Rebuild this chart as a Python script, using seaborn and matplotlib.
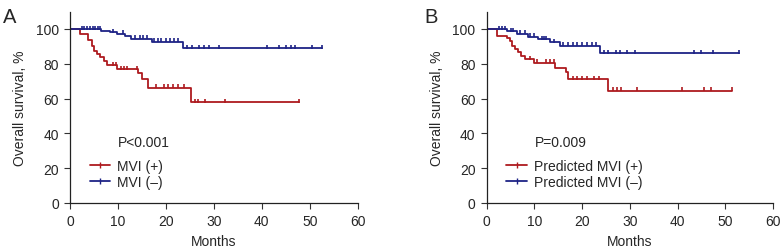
import numpy as np
import pandas as pd
import matplotlib
matplotlib.use("Agg")
import matplotlib.pyplot as plt
import seaborn as sns
from matplotlib.lines import Line2D

sns.set_theme(style="ticks")
plt.rcParams['font.family'] = ['Liberation Sans', 'DejaVu Sans']

# ---- Panel A data ----
a_pos_t = [0, 2.1, 3.8, 4.5, 5.0, 5.6, 6.25, 7.0, 7.8, 9.7, 14.2, 15.0, 16.2, 25.2, 47.8]
a_pos_s = [100, 97.2, 93.5, 90.4, 87.2, 85.6, 83.7, 81.8, 79.3, 77.0, 74.5, 71.0, 66.2, 57.8, 57.8]
a_pos_c = [9.0, 9.5, 10.6, 11.2, 11.8, 14.0, 18.0, 19.5, 20.5, 21.5, 22.5, 23.8, 26.0, 26.7, 28.1, 32.3, 47.8]
a_neg_t = [0, 6.5, 8.3, 9.8, 11.5, 12.8, 17.0, 23.5, 52.6]
a_neg_s = [100, 99.0, 98.1, 97.2, 96.2, 94.4, 92.8, 89.0, 89.0]
a_neg_c = [2.4, 3.0, 3.6, 4.2, 4.8, 5.3, 5.8, 6.2, 9.0, 11.0, 13.6, 14.5, 15.2, 16.0, 17.5, 18.3, 19.0,
           20.0, 20.8, 21.7, 22.6, 24.3, 25.5, 27.0, 28.0, 29.0, 31.0, 41.0, 43.5, 45.0, 46.0, 47.0,
           50.5, 52.6]

# ---- Panel B data ----
b_pos_t = [0, 2.1, 4.2, 4.9, 5.2, 5.9, 6.6, 7.1, 8.0, 9.9, 14.3, 16.6, 17.1, 25.5, 51.3]
b_pos_s = [100, 96.2, 94.6, 93.1, 90.4, 88.5, 86.6, 84.7, 82.6, 80.6, 77.4, 75.3, 71.0, 64.6, 64.6]
b_pos_c = [9.0, 10.5, 12.5, 13.3, 14.0, 18.0, 19.0, 20.0, 21.0, 22.5, 23.5, 26.5, 27.2, 28.2, 31.5,
           41.0, 45.5, 47.0, 51.3]
b_neg_t = [0, 4.2, 6.3, 8.7, 10.8, 13.3, 15.4, 23.8, 52.9]
b_neg_s = [100, 98.6, 97.3, 95.6, 94.1, 92.3, 90.5, 86.2, 86.2]
b_neg_c = [2.5, 3.2, 3.8, 5.0, 5.5, 7.0, 8.0, 9.0, 10.0, 11.5, 12.0, 12.5, 14.0, 16.0, 17.0, 18.0,
           19.0, 20.0, 21.0, 22.0, 23.0, 24.5, 25.5, 27.0, 28.0, 29.5, 31.0, 43.5, 45.0, 47.5, 52.9]

RED = "#AE1A1F"
BLUE = "#1E2386"
FS = 10

panels = [
    dict(letter="A", ptext="P<0.001", labels=["MVI (+)", "MVI (\u2013)"],
         pos=(a_pos_t, a_pos_s, a_pos_c), neg=(a_neg_t, a_neg_s, a_neg_c),
         rect=[0.0893, 0.1937, 0.367, 0.7565], lx=0.004),
    dict(letter="B", ptext="P=0.009", labels=["Predicted MVI (+)", "Predicted MVI (\u2013)"],
         pos=(b_pos_t, b_pos_s, b_pos_c), neg=(b_neg_t, b_neg_s, b_neg_c),
         rect=[0.6208, 0.1937, 0.3652, 0.7565], lx=0.541),
]

fig = plt.figure(figsize=(7.84, 2.53), dpi=100)

def step_val(t, s, x):
    idx = np.searchsorted(np.array(t), x, side="right") - 1
    return np.array(s)[idx]

for p in panels:
    ax = fig.add_axes(p["rect"])
    handles = []
    for (t, s, c), col, lab in [(p["pos"], RED, p["labels"][0]), (p["neg"], BLUE, p["labels"][1])]:
        df = pd.DataFrame({"t": t, "s": s})
        sns.lineplot(data=df, x="t", y="s", ax=ax, color=col, lw=1.3,
                     drawstyle="steps-post", estimator=None, sort=False)
        cy = step_val(t, s, np.array(c))
        cdf = pd.DataFrame({"t": c, "s": cy + 0.8})
        ax.scatter(cdf["t"], cdf["s"], marker="|", s=10, color=col, linewidths=1.2, zorder=3)
        handles.append(Line2D([0], [0], color=col, lw=1.3, marker="|", markersize=4,
                              markeredgewidth=1.0, label=lab))
    ax.set_xlim(0, 60)
    ax.set_ylim(0, 110)
    ax.set_xticks([0, 10, 20, 30, 40, 50, 60])
    ax.set_yticks([0, 20, 40, 60, 80, 100])
    ax.tick_params(axis="both", labelsize=FS, length=4, width=0.8, color="#333333", pad=4)
    for sp in ["top", "right"]:
        ax.spines[sp].set_visible(False)
    for sp in ["left", "bottom"]:
        ax.spines[sp].set_linewidth(0.9)
        ax.spines[sp].set_color("#222222")
    ax.set_xlabel("Months", fontsize=FS, labelpad=4)
    ax.set_ylabel("Overall survival, %", fontsize=FS, labelpad=6)
    ax.text(0.167, 0.321, p["ptext"], transform=ax.transAxes, fontsize=FS, va="center", ha="left")
    ax.legend(handles=handles, loc="center left", bbox_to_anchor=(0.069, 0.152), frameon=False,
              fontsize=FS, handlelength=1.45, handletextpad=0.5, labelspacing=0.1,
              borderaxespad=0, borderpad=0, numpoints=1)
    fig.text(p["lx"], 0.929, p["letter"], fontsize=14.5, ha="left", va="center")

fig.savefig("out.png", dpi=100)
